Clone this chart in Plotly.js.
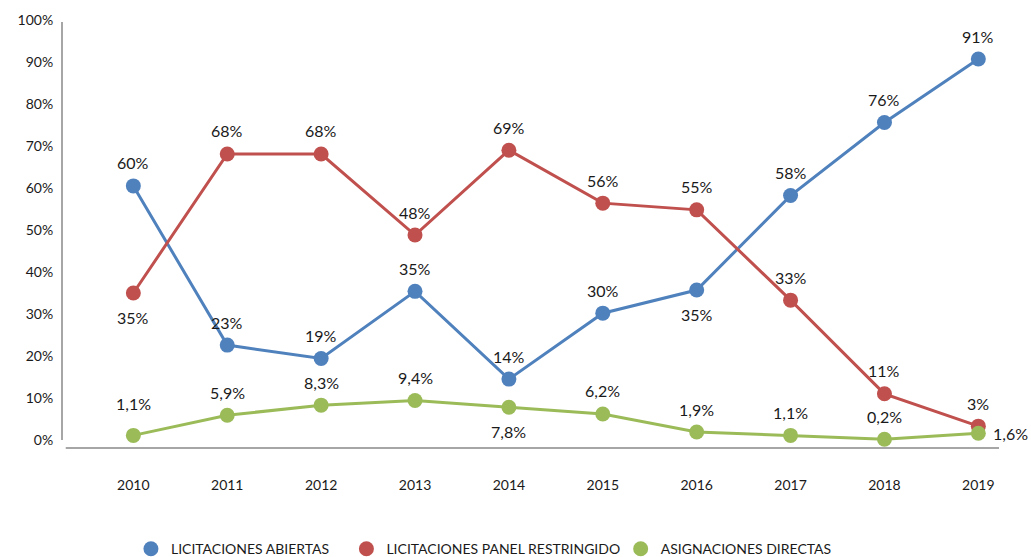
<!DOCTYPE html>
<html>
<head>
<meta charset="utf-8">
<script src="https://cdn.plot.ly/plotly-3.0.1.min.js"></script>
<style>html,body{margin:0;padding:0;background:#fff;}#chart{width:1031px;height:557px;}</style>
</head>
<body>
<div id="chart"></div>
<script>
const years = ['2010','2011','2012','2013','2014','2015','2016','2017','2018','2019'];
const abiertas = [0.605, 0.226, 0.194, 0.354, 0.145, 0.302, 0.357, 0.582, 0.756, 0.907];
const panel = [0.35, 0.681, 0.681, 0.488, 0.69, 0.564, 0.548, 0.333, 0.11, 0.033];
const directas = [0.011, 0.059, 0.083, 0.094, 0.078, 0.062, 0.019, 0.011, 0.002, 0.016];
const abiertasLabels = ['60%','23%','19%','35%','14%','30%','35%','58%','76%','91%'];
const panelLabels = ['35%','68%','68%','48%','69%','56%','55%','33%','11%','3%'];
const directasLabels = ['1,1%','5,9%','8,3%','9,4%','7,8%','6,2%','1,9%','1,1%','0,2%','1,6%'];
const abiertasPos = ['a','a','a','a','a','a','b','a','a','a'];
const panelPos = ['b','a','a','a','a','a','a','a','a','a'];
const directasPos = ['A','a','a','a','b','a','a','a','a','r'];
const yTicks = [0,0.1,0.2,0.3,0.4,0.5,0.6,0.7,0.8,0.9,1.0];
const names = ['LICITACIONES ABIERTAS','LICITACIONES PANEL RESTRINGIDO','ASIGNACIONES DIRECTAS'];
const colors = ['#4F81BD','#C0504D','#9BBB59'];

const FONT = 'Lato, sans-serif';
const series = [abiertas, panel, directas];
const labels = [abiertasLabels, panelLabels, directasLabels];
const poss = [abiertasPos, panelPos, directasPos];
const shiftFor = {a: 23, A: 32, b: -24};
const legendIds = ['legend', 'legend2', 'legend3'];

const traces = series.map((s, i) => ({
  x: years, y: s, type: 'scatter', mode: 'lines+markers', name: names[i],
  line: {color: colors[i], width: 3},
  marker: {color: colors[i], size: 15},
  showlegend: false, hoverinfo: 'skip'
}));
names.forEach((n, i) => traces.push({
  x: [null], y: [null], type: 'scatter', mode: 'markers', name: n, legend: legendIds[i],
  marker: {color: colors[i], size: 15}, showlegend: true
}));

const annotations = [];
series.forEach((s, i) => {
  s.forEach((v, j) => {
    const p = poss[i][j];
    const a = {x: j, y: v, xref: 'x', yref: 'y', text: labels[i][j], showarrow: false,
      font: {family: FONT, size: 16, color: '#1a1a1a'}};
    if (p === 'r') { a.xanchor = 'left'; a.xshift = 13; }
    else { a.yshift = shiftFor[p]; }
    annotations.push(a);
  });
});

const legBase = {orientation: 'h', yref: 'container', y: 0.014, yanchor: 'middle', xanchor: 'left',
  xref: 'container', font: {family: FONT, size: 14, color: '#1a1a1a'}, bgcolor: 'rgba(0,0,0,0)'};
const layout = {
  width: 1031, height: 557,
  margin: {l: 62, r: 32, t: 20, b: 109, autoexpand: false},
  paper_bgcolor: '#fff', plot_bgcolor: '#fff',
  font: {family: FONT, size: 14, color: '#1a1a1a'},
  xaxis: {type: 'category', range: [-0.76, 9.22], showgrid: false, zeroline: false, showline: false,
    ticks: 'outside', ticklen: 24, tickcolor: 'rgba(0,0,0,0)', tickfont: {family: FONT, size: 14, color: '#1a1a1a'}},
  yaxis: {range: [-0.019, 1.0], tickvals: yTicks, tickformat: '.0%', showgrid: false, zeroline: false,
    showline: false, ticks: 'outside', ticklen: 5, tickcolor: 'rgba(0,0,0,0)',
    tickfont: {family: FONT, size: 14, color: '#1a1a1a'}},
  shapes: [
    {type: 'line', xref: 'paper', yref: 'y', x0: 0, x1: 0, y0: 0, y1: 0.995, line: {color: '#A6A6A6', width: 2}},
    {type: 'line', xref: 'paper', yref: 'paper', x0: 0.004, x1: 1, y0: 0, y1: 0, line: {color: '#A6A6A6', width: 2}}
  ],
  annotations: annotations,
  showlegend: true,
  legend: Object.assign({}, legBase, {x: 0.127}),
  legend2: Object.assign({}, legBase, {x: 0.336}),
  legend3: Object.assign({}, legBase, {x: 0.602})
};
Plotly.newPlot('chart', traces, layout, {displayModeBar: false, staticPlot: true});
</script>
</body>
</html>
